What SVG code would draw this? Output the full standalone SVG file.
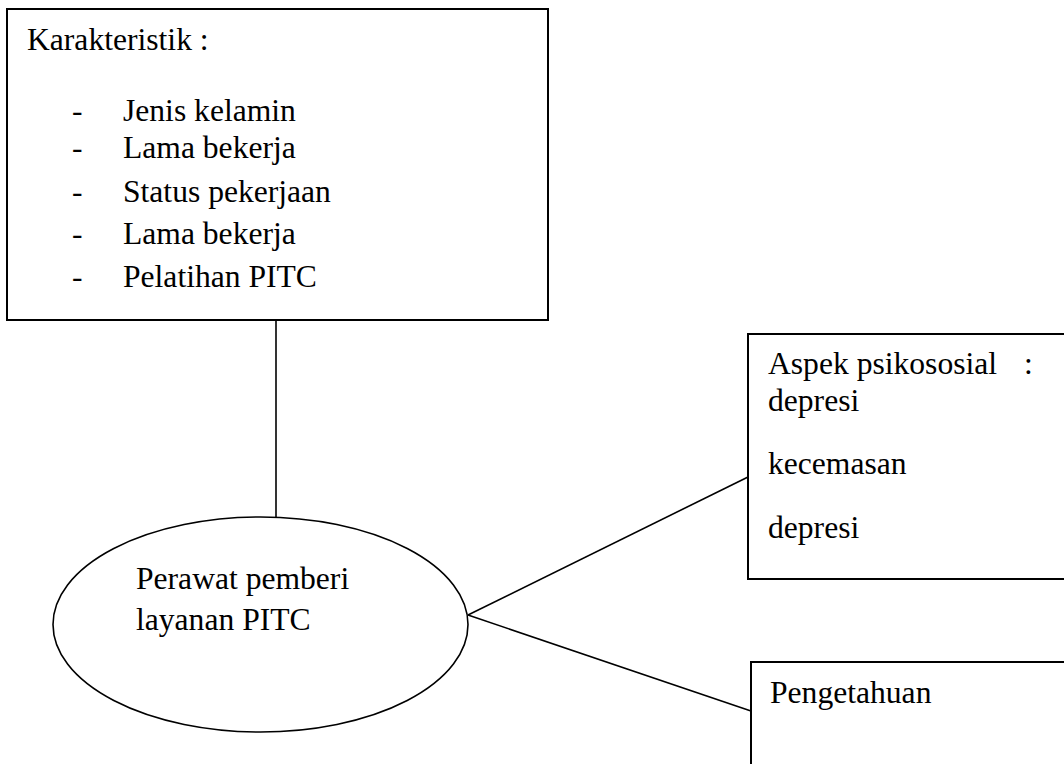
<svg xmlns="http://www.w3.org/2000/svg" width="1064" height="764" viewBox="0 0 1064 764">
<style>
.box{fill:#fff;stroke:#000;stroke-width:2}
.ell{fill:#fff;stroke:#000;stroke-width:1.6}
.con{stroke:#000;stroke-width:1.6;fill:none}
text{font-family:"Liberation Serif","Times New Roman",serif;font-size:31.6px;fill:#000}
</style>
<rect width="1064" height="764" fill="#fff"/>
<g id="connectors">
<line class="con" x1="276" y1="320" x2="276" y2="518"/>
<line class="con" x1="468" y1="615" x2="748" y2="477"/>
<line class="con" x1="468" y1="615" x2="751" y2="711"/>
</g>
<g id="karakteristik">
<rect class="box" x="7" y="9" width="541" height="311"/>
<text x="27" y="50">Karakteristik :</text>
<text x="72" y="121">-</text><text x="123" y="121">Jenis kelamin</text>
<text x="72" y="158">-</text><text x="123" y="158">Lama bekerja</text>
<text x="72" y="202">-</text><text x="123" y="202">Status pekerjaan</text>
<text x="72" y="244">-</text><text x="123" y="244">Lama bekerja</text>
<text x="72" y="287">-</text><text x="123" y="287">Pelatihan PITC</text>
</g>
<g id="perawat">
<ellipse class="ell" cx="260.5" cy="624.5" rx="207.5" ry="107.5"/>
<text x="136" y="589">Perawat pemberi</text>
<text x="136" y="630">layanan PITC</text>
</g>
<g id="aspek">
<rect class="box" x="748" y="334" width="330" height="245"/>
<text x="768" y="374">Aspek psikososial<tspan x="1024">:</tspan></text>
<text x="768" y="411">depresi</text>
<text x="768" y="474">kecemasan</text>
<text x="768" y="538">depresi</text>
</g>
<g id="pengetahuan">
<rect class="box" x="751" y="662" width="330" height="120"/>
<text x="770" y="703">Pengetahuan</text>
</g>
</svg>
